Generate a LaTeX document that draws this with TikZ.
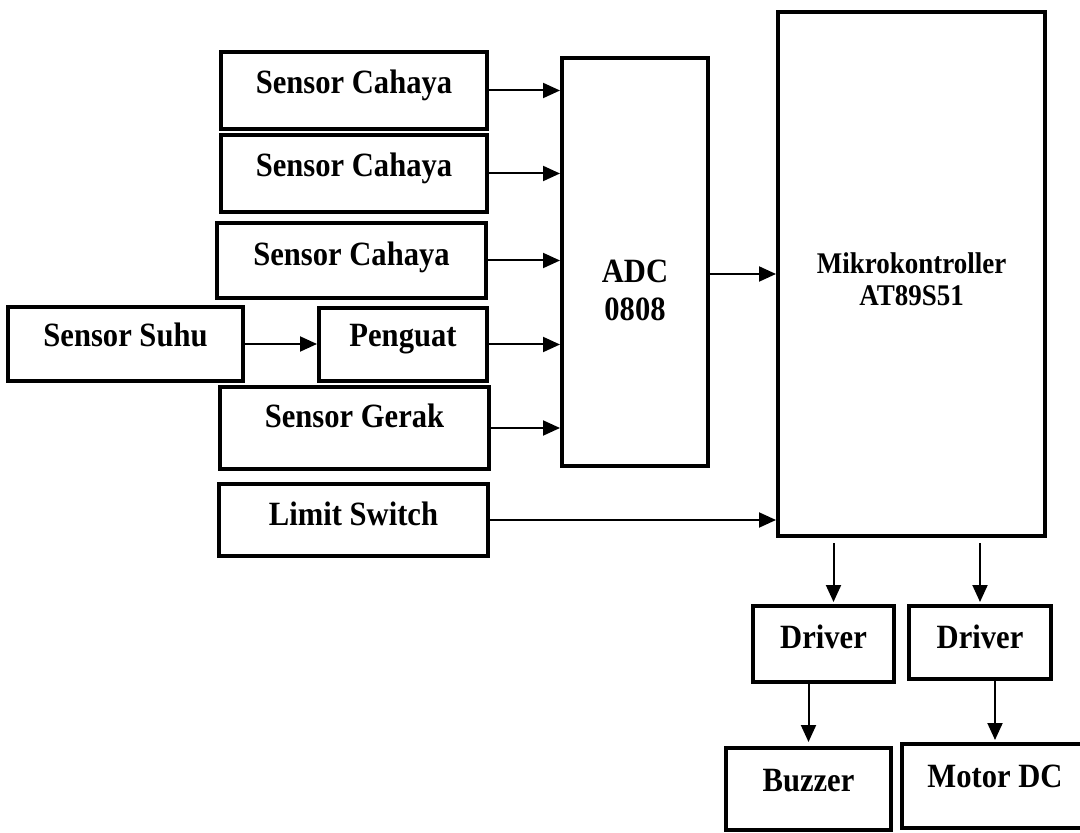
\documentclass[tikz,border=0pt]{standalone}
\usepackage{fontspec}
\setmainfont{Liberation Serif}[FakeStretch=0.9]
\usetikzlibrary{
  arrows.meta,
  calc
}

\begin{document}
\begin{tikzpicture}[
  x=0.5pt, y=-0.5pt,
  every node/.style={font=\fontsize{17pt}{19pt}\selectfont\bfseries},
  block/.style={draw, line width=2pt, inner sep=0pt, align=center, text height=12pt, text depth=9pt},
  link/.style={->, line width=1pt},
  >={Triangle[length=8.5pt, width=7.5pt]}
]
\useasboundingbox (0,0) rectangle (1080,833);

\node[block, minimum width=133pt, minimum height=38.5pt, text depth=9.25pt] (cahaya1) at (354, 90.5) {Sensor Cahaya};
\node[block, minimum width=133pt, minimum height=38.5pt, text depth=9.25pt] (cahaya2) at (354, 173.5) {Sensor Cahaya};
\node[block, minimum width=134.5pt, minimum height=37.5pt, text depth=7pt] (cahaya3) at (351.5, 260.5) {Sensor Cahaya};
\node[block, minimum width=117.5pt, minimum height=37pt, text depth=9.25pt] (suhu) at (125.5, 344) {Sensor Suhu};
\node[block, minimum width=84pt, minimum height=36.5pt, text depth=9.75pt] (penguat) at (403, 344.5) {Penguat};
\node[block, minimum width=134.5pt, minimum height=41pt, text depth=12.75pt] (gerak) at (354.5, 428) {Sensor Gerak};
\node[block, minimum width=134.5pt, minimum height=36pt, text depth=6.75pt] (limit) at (353.5, 520) {Limit Switch};

\node[block, minimum width=73pt, minimum height=204pt, text height=58.7pt, text depth=0pt] (adc) at (635, 262) {ADC\\0808};
\node[block, minimum width=133.5pt, minimum height=262pt, text height=32pt, text depth=0pt,
  font=\fontsize{15pt}{16pt}\selectfont\bfseries] (mcu) at (911.5, 274) {Mikrokontroller\\AT89S51};

\node[block, minimum width=70.5pt, minimum height=38pt, text depth=7.25pt] (driver1) at (823.5, 644) {Driver};
\node[block, minimum width=71pt, minimum height=36.5pt, text depth=5.75pt] (driver2) at (980, 642.5) {Driver};
\node[block, minimum width=82.5pt, minimum height=41pt, text depth=9.75pt] (buzzer) at (808.5, 789) {Buzzer};
\node[block, minimum width=93pt, minimum height=42pt, text depth=10.75pt] (motor) at (995, 786) {Motor DC};

\draw[link] (cahaya1.east) -- (cahaya1.east -| adc.west);
\draw[link] (cahaya2.east) -- (cahaya2.east -| adc.west);
\draw[link] (cahaya3.east) -- (cahaya3.east -| adc.west);
\draw[link] (suhu.east) -- (suhu.east -| penguat.west);
\draw[link] (penguat.east) -- (penguat.east -| adc.west);
\draw[link] (gerak.east) -- (gerak.east -| adc.west);
\draw[link] (limit.east) -- (limit.east -| mcu.west);
\draw[link] (adc.east |- mcu.west) -- (mcu.west);

\draw[link, shorten <=2.5pt, shorten >=1pt] ([xshift=5pt]driver1.north |- mcu.south) -- ([xshift=5pt]driver1.north);
\draw[link, shorten <=2.5pt, shorten >=1pt] (driver2.north |- mcu.south) -- (driver2.north);
\draw[link, shorten >=2pt] (buzzer.north |- driver1.south) -- (buzzer.north);
\draw[link, shorten >=1pt] (motor.north |- driver2.south) -- (motor.north);

\end{tikzpicture}
\end{document}
